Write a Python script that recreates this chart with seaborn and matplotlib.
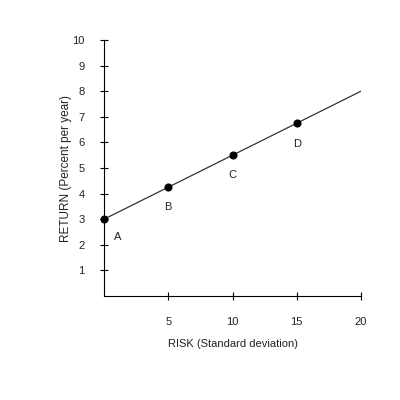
import seaborn as sns
import matplotlib.pyplot as plt
import pandas as pd

# Data
risk = [0, 5, 10, 15]
ret = [3.0, 4.25, 5.5, 6.75]
point_labels = ['A', 'B', 'C', 'D']
line_x = [0, 20]
line_y = [3.0, 8.0]
label_dx = [1.1, 0.0, 0.0, 0.0]
label_dy = [-0.68, -0.78, -0.78, -0.8]
x_ticks = [5, 10, 15, 20]
y_ticks = [1, 2, 3, 4, 5, 6, 7, 8, 9, 10]

sns.set_style('white')
plt.rcParams['font.family'] = ['Liberation Sans', 'DejaVu Sans']

fig = plt.figure(figsize=(4, 4), dpi=100)
ax = fig.add_axes([0.26, 0.26, 0.6425, 0.64])

line_df = pd.DataFrame({'x': line_x, 'y': line_y})
pts_df = pd.DataFrame({'risk': risk, 'ret': ret})
sns.lineplot(data=line_df, x='x', y='y', color='#333333', linewidth=0.9, ax=ax)
sns.scatterplot(data=pts_df, x='risk', y='ret', color='black', s=34,
                edgecolor='black', linewidth=0, zorder=3, ax=ax, clip_on=False)

for xv, yv, lab, dx, dy in zip(risk, ret, point_labels, label_dx, label_dy):
    ax.text(xv + dx, yv + dy, lab, ha='center', va='center', fontsize=8, color='#222222')

ax.set_xlim(0, 20)
ax.set_ylim(0, 10)
ax.set_xticks(x_ticks)
ax.set_yticks(y_ticks)
ax.tick_params(axis='both', direction='inout', length=6, width=0.8, color='black',
               labelsize=8, labelcolor='#222222', bottom=True, left=True)
ax.tick_params(axis='x', pad=12)
ax.tick_params(axis='y', pad=11)
for side in ['top', 'right']:
    ax.spines[side].set_visible(False)
for side in ['left', 'bottom']:
    ax.spines[side].set_color('black')
    ax.spines[side].set_linewidth(0.8)

ax.set_xlabel('RISK (Standard deviation)', fontsize=8, color='#222222', labelpad=9)
ax.set_ylabel('RETURN (Percent per year)', fontsize=8.5, color='#222222', labelpad=0)

fig.savefig('out.png', dpi=100)
